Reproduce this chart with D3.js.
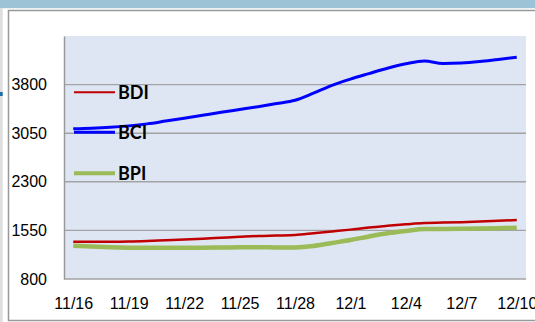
<!DOCTYPE html>
<html>
<head>
<meta charset="utf-8">
<script src="https://cdn.jsdelivr.net/npm/d3@7"></script>
<style>
  html, body { margin: 0; padding: 0; background: #fff; }
  svg { display: block; }
</style>
</head>
<body>
<svg id="chart" width="535" height="322"></svg>
<script>
// Daily categories, 11/16 through 12/10
const dates = ["11/16","11/17","11/18","11/19","11/20","11/21","11/22","11/23","11/24",
  "11/25","11/26","11/27","11/28","11/29","11/30","12/1","12/2","12/3","12/4","12/5",
  "12/6","12/7","12/8","12/9","12/10"];

// Baltic indices
const bdi = [1376,1374,1374,1377,1386,1399,1411,1423,1437,1451,1464,1471,1479,
  1505,1533,1562,1595,1621,1644,1664,1670,1677,1686,1698,1710];
const bci = [3119,3127,3141,3163,3194,3237,3281,3326,3373,3416,3459,3507,3558,
  3667,3788,3885,3970,4053,4121,4164,4126,4133,4156,4189,4221];
const bpi = [1314,1300,1289,1283,1281,1281,1281,1283,1286,1289,1289,1288,1288,
  1309,1356,1402,1456,1505,1541,1572,1573,1575,1578,1584,1592];

const seriesNames = ["BDI", "BCI", "BPI"];
const seriesColors = ["#c00000", "#0000ff", "#9bbb59"];
const seriesWidths = [2.5, 3, 4.5];
const legendWidths = [2, 3, 4];

const yTicks = [800, 1550, 2300, 3050, 3800];
const xTickLabels = ["11/16","11/19","11/22","11/25","11/28","12/1","12/4","12/7","12/10"];

const svg = d3.select("#chart");
const W = 535, H = 322;
const plot = { left: 64, right: 526, top: 36, bottom: 279 };

// Page chrome: top band, left strip, chart frame
svg.append("rect").attr("x", 0).attr("y", 0).attr("width", W).attr("height", 8.2).attr("fill", "#9dc3d7");
svg.append("rect").attr("x", 0).attr("y", 8.2).attr("width", 2.7).attr("height", H).attr("fill", "#dedede");
svg.append("rect").attr("x", 0).attr("y", 92).attr("width", 2.7).attr("height", 4).attr("fill", "#1f6fa8");
svg.append("rect").attr("x", 8.5).attr("y", 10.5).attr("width", 540).attr("height", 310)
  .attr("fill", "#fff").attr("stroke", "#999").attr("stroke-width", 1.5);

const x = d3.scalePoint().domain(dates).range([plot.left, plot.right]).padding(0.5);
const y = d3.scaleLinear().domain([800, 4550]).range([plot.bottom, plot.top]);

// Plot background
svg.append("rect")
  .attr("x", plot.left).attr("y", plot.top)
  .attr("width", plot.right - plot.left).attr("height", plot.bottom - plot.top)
  .attr("fill", "#dfe6f3");

// Horizontal gridlines
svg.append("g").selectAll("line").data(yTicks.slice(1)).join("line")
  .attr("x1", plot.left).attr("x2", plot.right)
  .attr("y1", d => y(d)).attr("y2", d => y(d))
  .attr("stroke", "#a3a3a3").attr("stroke-width", 1.4);

// Axes
const yAxis = svg.append("g").attr("transform", `translate(${plot.left},0)`)
  .call(d3.axisLeft(y).tickValues(yTicks).tickFormat(d3.format("d")).tickSize(0).tickPadding(17));
yAxis.select(".domain").attr("stroke", "#999").attr("stroke-width", 1.5);
yAxis.selectAll("text").attr("font-family", "'Liberation Sans', Arial, sans-serif")
  .attr("font-size", 16).attr("fill", "#000");

const xAxis = svg.append("g").attr("transform", `translate(0,${plot.bottom})`)
  .call(d3.axisBottom(x).tickValues(xTickLabels).tickSize(0).tickPadding(19));
xAxis.select(".domain").attr("stroke", "#a3a3a3").attr("stroke-width", 1.5)
  .attr("d", `M${plot.left},0H${plot.right}`);
xAxis.selectAll("text").attr("font-family", "'Liberation Sans', Arial, sans-serif")
  .attr("font-size", 16).attr("fill", "#000");

// Series lines
const values = [bdi, bci, bpi];
const line = d3.line()
  .x((d, i) => x(dates[i]))
  .y(d => y(d))
  .curve(d3.curveMonotoneX);

// Draw order: BPI underneath, then BDI, then BCI
[2, 0, 1].forEach(k => {
  svg.append("path")
    .datum(values[k])
    .attr("d", line)
    .attr("fill", "none")
    .attr("stroke", seriesColors[k])
    .attr("stroke-width", seriesWidths[k])
    .attr("stroke-linejoin", "round")
    .attr("stroke-linecap", "butt");
});

// Legend inside the plot area
const legendY = [92.3, 132.3, 173.3];
const lg = svg.append("g");
seriesNames.forEach((name, k) => {
  lg.append("line")
    .attr("x1", 74).attr("x2", 115)
    .attr("y1", legendY[k]).attr("y2", legendY[k])
    .attr("stroke", seriesColors[k]).attr("stroke-width", legendWidths[k]);
  lg.append("text")
    .attr("x", 118).attr("y", legendY[k] + 6.5)
    .attr("font-family", "Lato, 'Open Sans', sans-serif")
    .attr("font-weight", "bold").attr("font-size", 18)
    .attr("fill", "#000")
    .text(name);
});
</script>
</body>
</html>
